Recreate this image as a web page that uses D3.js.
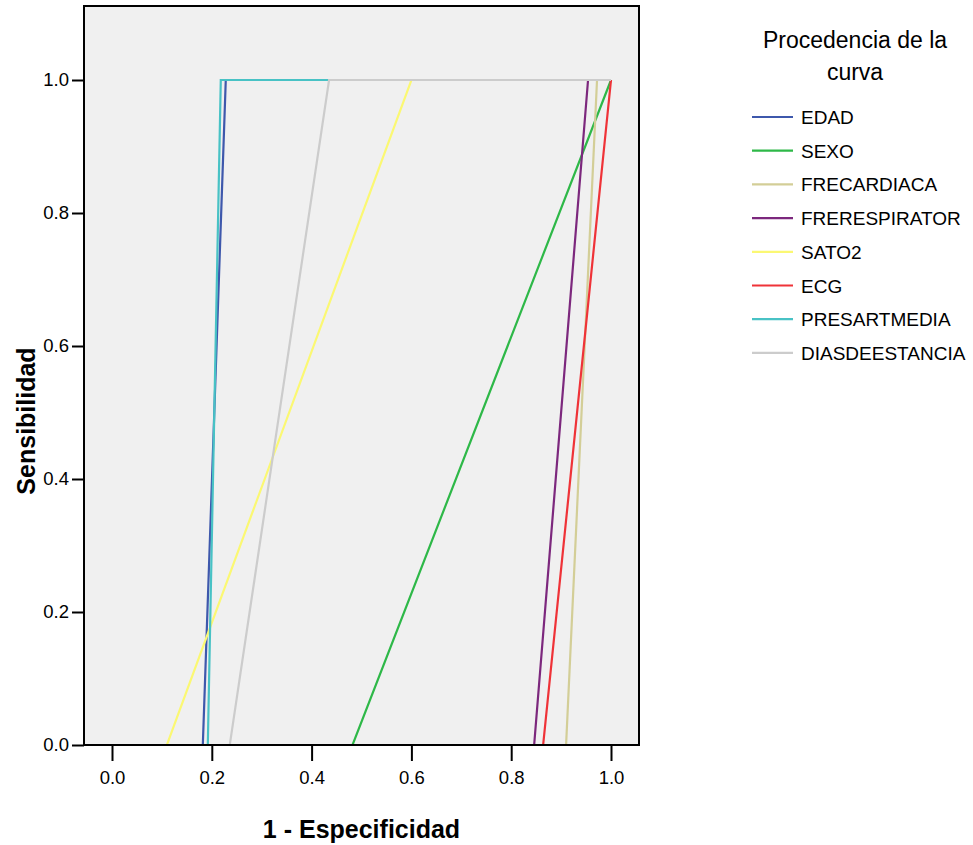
<!DOCTYPE html>
<html>
<head>
<meta charset="utf-8">
<script src="https://cdn.jsdelivr.net/npm/d3@7"></script>
<style>
  body { margin: 0; background: #fff; }
  text { font-family: "Liberation Sans", Arial, sans-serif; }
</style>
</head>
<body>
<div id="vis"></div>
<script>
// Series names and colours (SPSS default palette)
const SERIES = ["EDAD", "SEXO", "FRECARDIACA", "FRERESPIRATOR", "SATO2", "ECG", "PRESARTMEDIA", "DIASDEESTANCIA"];
const COLORS = ["#3e58ac", "#2eb848", "#d3ce97", "#7c287d", "#fbf873", "#ef3338", "#48c2c5", "#cccccc"];

// ROC points: 1 - specificity (x) and sensitivity (y)
const FPR_EDAD = [0, 0.182, 0.228, 1];
const TPR_EDAD = [0, 0, 1, 1];
const FPR_SEXO = [0, 0.482, 1];
const TPR_SEXO = [0, 0, 1];
const FPR_FRECARDIACA = [0, 0.91, 0.972, 1];
const TPR_FRECARDIACA = [0, 0, 1, 1];
const FPR_FRERESPIRATOR = [0, 0.846, 0.954, 1];
const TPR_FRERESPIRATOR = [0, 0, 1, 1];
const FPR_SATO2 = [0, 0.11, 0.6, 1];
const TPR_SATO2 = [0, 0, 1, 1];
const FPR_ECG = [0, 0.864, 1];
const TPR_ECG = [0, 0, 1];
const FPR_PRESARTMEDIA = [0, 0.192, 0.218, 1];
const TPR_PRESARTMEDIA = [0, 0, 1, 1];
const FPR_DIASDEESTANCIA = [0, 0.236, 0.435, 1];
const TPR_DIASDEESTANCIA = [0, 0, 1, 1];

const X_TICKS = [0, 0.2, 0.4, 0.6, 0.8, 1.0];
const Y_TICKS = [0, 0.2, 0.4, 0.6, 0.8, 1.0];

const FPRS = [FPR_EDAD, FPR_SEXO, FPR_FRECARDIACA, FPR_FRERESPIRATOR, FPR_SATO2, FPR_ECG, FPR_PRESARTMEDIA, FPR_DIASDEESTANCIA];
const TPRS = [TPR_EDAD, TPR_SEXO, TPR_FRECARDIACA, TPR_FRERESPIRATOR, TPR_SATO2, TPR_ECG, TPR_PRESARTMEDIA, TPR_DIASDEESTANCIA];

// Frame
const FRAME_WIDTH = 973;
const FRAME_HEIGHT = 845;
const PLOT = {left: 84, right: 639, top: 6, bottom: 745};

const FRAME = d3.select("#vis")
  .append("svg")
    .attr("width", FRAME_WIDTH)
    .attr("height", FRAME_HEIGHT);

// Scales (0 -> 112px, 1 -> 611px; 0 -> 745px, 1 -> 80px)
const X_SCALE = d3.scaleLinear()
  .domain([(PLOT.left - 112) / 499, (PLOT.right - 112) / 499])
  .range([PLOT.left, PLOT.right]);
const Y_SCALE = d3.scaleLinear()
  .domain([0, (745 - PLOT.top) / 665])
  .range([PLOT.bottom, PLOT.top]);

// Plot background
FRAME.append("rect")
  .attr("x", PLOT.left)
  .attr("y", PLOT.top)
  .attr("width", PLOT.right - PLOT.left)
  .attr("height", PLOT.bottom - PLOT.top)
  .attr("fill", "#f0f0f0");

// Curves
const line = d3.line()
  .x((d) => X_SCALE(d[0]))
  .y((d) => Y_SCALE(d[1]));

SERIES.forEach((name, i) => {
  const pts = FPRS[i].map((x, j) => [x, TPRS[i][j]]);
  FRAME.append("path")
    .datum(pts)
    .attr("d", line)
    .attr("fill", "none")
    .attr("stroke", COLORS[i])
    .attr("stroke-width", 2.2);
});

// Border
FRAME.append("rect")
  .attr("x", PLOT.left)
  .attr("y", PLOT.top)
  .attr("width", PLOT.right - PLOT.left)
  .attr("height", PLOT.bottom - PLOT.top)
  .attr("fill", "none")
  .attr("stroke", "#000")
  .attr("stroke-width", 2);

// X axis
const xAxis = FRAME.append("g")
  .attr("transform", "translate(0," + PLOT.bottom + ")")
  .call(d3.axisBottom(X_SCALE).tickValues(X_TICKS).tickFormat(d3.format(".1f")).tickSize(16).tickSizeOuter(0).tickPadding(10));
xAxis.select(".domain").remove();
xAxis.selectAll("line").attr("stroke-width", 2);
xAxis.selectAll("text").attr("font-size", "18.5px").attr("fill", "#000")
  .style("font-family", "Liberation Sans, Arial, sans-serif");

// Y axis
const yAxis = FRAME.append("g")
  .attr("transform", "translate(" + PLOT.left + ",0)")
  .call(d3.axisLeft(Y_SCALE).tickValues(Y_TICKS).tickFormat(d3.format(".1f")).tickSize(12).tickSizeOuter(0).tickPadding(3));
yAxis.select(".domain").remove();
yAxis.selectAll("line").attr("stroke-width", 2);
yAxis.selectAll("text").attr("font-size", "18.5px").attr("fill", "#000")
  .style("font-family", "Liberation Sans, Arial, sans-serif");

// Axis titles
FRAME.append("text")
  .attr("x", X_SCALE(0.5))
  .attr("y", 838)
  .attr("text-anchor", "middle")
  .attr("font-size", "25px")
  .attr("font-weight", "bold")
  .text("1 - Especificidad");

FRAME.append("text")
  .attr("transform", "translate(35,421) rotate(-90)")
  .attr("text-anchor", "middle")
  .attr("font-size", "25px")
  .attr("font-weight", "bold")
  .text("Sensibilidad");

// Legend
const LEGEND_X = 752;
FRAME.append("text")
  .attr("x", 855)
  .attr("y", 48)
  .attr("text-anchor", "middle")
  .attr("font-size", "23px")
  .text("Procedencia de la");
FRAME.append("text")
  .attr("x", 855)
  .attr("y", 80)
  .attr("text-anchor", "middle")
  .attr("font-size", "23px")
  .text("curva");

const legend = FRAME.selectAll(".legend")
  .data(SERIES)
  .enter()
  .append("g")
    .attr("class", "legend")
    .attr("transform", (d, i) => "translate(" + LEGEND_X + "," + (117 + i * 33.7) + ")");

legend.append("line")
  .attr("x1", 0)
  .attr("x2", 41)
  .attr("stroke", (d, i) => COLORS[i])
  .attr("stroke-width", 2.2);

legend.append("text")
  .attr("x", 49)
  .attr("y", 7)
  .attr("font-size", "19px")
  .text((d) => d);
</script>
</body>
</html>
